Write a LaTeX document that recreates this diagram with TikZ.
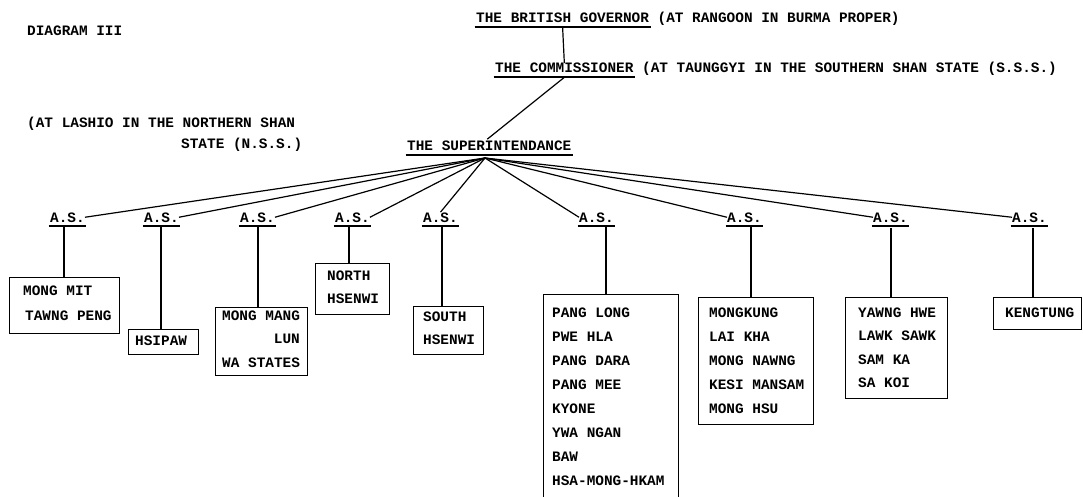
\documentclass[tikz,border=0pt]{standalone}
\usepackage{fontspec}
\newfontfamily\tw{Liberation Mono}
\begin{document}
\begin{tikzpicture}[x=1pt,y=-1pt,
  txt/.style={font=\tw\bfseries\fontsize{14.4}{16}\selectfont, inner sep=0pt, anchor=base west},
  box/.style={draw, line width=1.3pt, inner sep=0pt, anchor=north west},
  conn/.style={line width=1.2pt},
  ul/.style={line width=1.3pt}]
\newcommand\ulnode[1]{\draw[ul] ([xshift=-1.5pt,yshift=-4pt]#1.base west) -- ([xshift=1.5pt,yshift=-4pt]#1.base east);}
\useasboundingbox (0,0) rectangle (1083,497);

% header texts
\node[txt] (diag) at (27,36) {DIAGRAM III};
\node[txt] (gov) at (476,23) {THE BRITISH GOVERNOR};
\node[txt] (govnote) at (657.4,23) {(AT RANGOON IN BURMA PROPER)};
\ulnode{gov}
\node[txt] (comm) at (495,73) {THE COMMISSIONER};
\node[txt] (commnote) at (641.9,73) {(AT TAUNGGYI IN THE SOUTHERN SHAN STATE (S.S.S.)};
\ulnode{comm}
\node[txt] (lashio) at (27,128) {(AT LASHIO IN THE NORTHERN SHAN};
\node[txt] (nss) at (181,149) {STATE (N.S.S.)};
\node[txt] (sup) at (407,151) {THE SUPERINTENDANCE};
\ulnode{sup}
\coordinate (fan) at (485,158);

\draw[conn] ([yshift=-4pt]gov.south) -- (comm.north);
\draw[conn] ([yshift=-4pt]comm.south) -- ([xshift=-2pt,yshift=2pt]sup.north);

% A.S. nodes
\foreach \n/\x in {1/50,2/144,3/240,4/335,5/423,6/579,7/727,8/873,9/1012}{
  \node[txt] (as\n) at (\x,222) {A.S.};
  \ulnode{as\n}
}
\foreach \n in {1,2,3,4} \draw[conn] (as\n.east) -- (fan);
\draw[conn] (as5.north) -- (fan);
\foreach \n in {6,7,8,9} \draw[conn] (as\n.west) -- (fan);

% boxes
\node[box, minimum width=110pt, minimum height=56pt] (b1) at (9,277) {};
\node[box, minimum width=70pt, minimum height=25pt] (b2) at (128,329) {};
\node[box, minimum width=92pt, minimum height=68pt] (b3) at (215,307) {};
\node[box, minimum width=74pt, minimum height=51pt] (b4) at (315,263) {};
\node[box, minimum width=70pt, minimum height=48pt] (b5) at (413,306) {};
\node[box, minimum width=135pt, minimum height=215pt] (b6) at (543,294) {};
\node[box, minimum width=115pt, minimum height=127pt] (b7) at (698,297) {};
\node[box, minimum width=102pt, minimum height=101pt] (b8) at (845,297) {};
\node[box, minimum width=88pt, minimum height=32pt] (b9) at (993,297) {};

% verticals
\foreach \n/\x/\y in {1/64/226,2/161/226,3/258/226,4/349/226,5/442/226,6/606/227,7/751/227,8/891/228,9/1033/228}{
  \coordinate (v\n) at (\x,\y);
  \draw[conn] (v\n) -- (v\n |- b\n.north);
}

% box texts
\node[txt] (t1a) at (23,295) {MONG MIT};
\node[txt] (t1b) at (25,320) {TAWNG PENG};
\node[txt] (t2a) at (135,345) {HSIPAW};
\node[txt] (t3a) at (222,320) {MONG MANG};
\node[txt, anchor=base east] (t3b) at (300,343) {LUN};
\node[txt] (t3c) at (222,367) {WA STATES};
\node[txt] (t4a) at (327,280) {NORTH};
\node[txt] (t4b) at (327,303) {HSENWI};
\node[txt] (t5a) at (423,321) {SOUTH};
\node[txt] (t5b) at (423,344) {HSENWI};
\foreach \t [count=\i] in {PANG LONG,PWE HLA,PANG DARA,PANG MEE,KYONE,YWA NGAN,BAW,HSA-MONG-HKAM}
  \node[txt] (t6\i) at (552,{317+24*(\i-1)}) {\t};
\foreach \t [count=\i] in {MONGKUNG,LAI KHA,MONG NAWNG,KESI MANSAM,MONG HSU}
  \node[txt] (t7\i) at (709,{317+24*(\i-1)}) {\t};
\foreach \t [count=\i] in {YAWNG HWE,LAWK SAWK,SAM KA,SA KOI}
  \node[txt] (t8\i) at (858,{317+23.5*(\i-1)}) {\t};
\node[txt] (t9a) at (1005,317) {KENGTUNG};
\end{tikzpicture}
\end{document}
